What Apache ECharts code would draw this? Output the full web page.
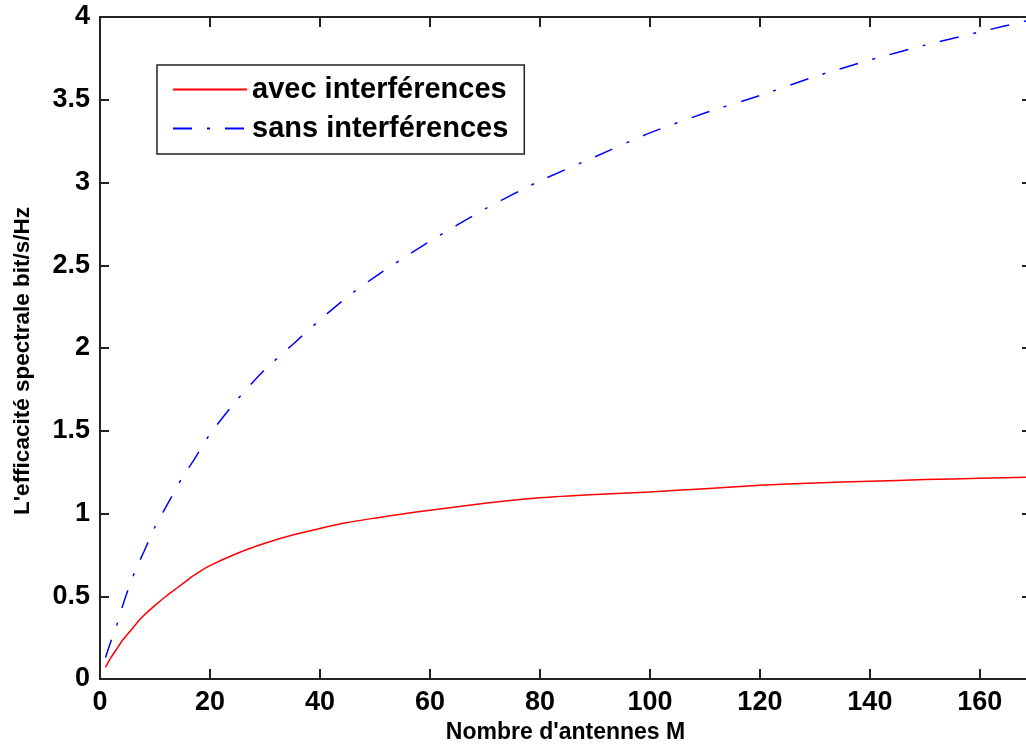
<!DOCTYPE html>
<html>
<head>
<meta charset="utf-8">
<title>Efficacité spectrale</title>
<script src="https://cdn.jsdelivr.net/npm/echarts@6/dist/echarts.min.js"></script>
<style>
  html, body { margin: 0; padding: 0; background: #fff; }
  #chart { width: 1026px; height: 746px; }
</style>
</head>
<body>
<div id="chart"></div>
<script>
// ------------------------------  données ---------------------------
const antennes = [1, 2, 3, 4, 5, 6, 7, 8, 10, 12, 13, 15, 17, 20, 25, 30, 35, 40, 45, 50, 55, 60, 70, 80, 90, 100, 110, 120, 130, 140, 150, 160, 169];
const avecInterf = [0.07, 0.13, 0.18, 0.23, 0.27, 0.31, 0.35, 0.385, 0.445, 0.50, 0.525, 0.575, 0.625, 0.685, 0.76, 0.82, 0.87, 0.91, 0.945, 0.972, 0.997, 1.02, 1.062, 1.095, 1.115, 1.13, 1.15, 1.17, 1.185, 1.195, 1.205, 1.213, 1.22];
const sansInterf = [0.13, 0.23, 0.32, 0.43, 0.53, 0.62, 0.70, 0.77, 0.92, 1.04, 1.10, 1.22, 1.32, 1.48, 1.69, 1.87, 2.02, 2.17, 2.31, 2.43, 2.54, 2.645, 2.84, 3.01, 3.155, 3.30, 3.42, 3.525, 3.64, 3.74, 3.83, 3.91, 3.98];
const nomsSeries = ['avec interférences', 'sans interférences'];

(function () {
  let myChart = echarts.init(document.getElementById('chart'));

  const font = 'Liberation Sans, Arial, sans-serif';
  const axisColor = '#222';

  // couples [M, valeur]
  function pairs(ys) {
    return antennes.map(function (m, i) { return [m, ys[i]]; });
  }

  // axe commun (cadre "box on" façon MATLAB, graduations vers l'intérieur)
  function xAxe(pos, labels) {
    return {
      type: 'value', position: pos, min: 0, max: 169.3, interval: 20,
      splitLine: { show: false },
      axisLine: { show: true, onZero: false, lineStyle: { color: axisColor, width: 2 } },
      axisTick: { show: true, inside: true, length: 10, lineStyle: { color: axisColor, width: 2 } },
      axisLabel: {
        show: labels, showMaxLabel: false, margin: 10,
        color: '#000', fontFamily: font, fontWeight: 'bold', fontSize: 27
      }
    };
  }
  function yAxe(pos, labels) {
    return {
      type: 'value', position: pos, min: 0, max: 4, interval: 0.5,
      splitLine: { show: false },
      axisLine: { show: true, onZero: false, lineStyle: { color: axisColor, width: 2 } },
      axisTick: { show: true, inside: true, length: 9, lineStyle: { color: axisColor, width: 2 } },
      axisLabel: {
        show: labels, margin: 10, padding: [4, 0, 0, 0],
        color: '#000', fontFamily: font, fontWeight: 'bold', fontSize: 27
      }
    };
  }

  let xBas = xAxe('bottom', true);
  xBas.name = "Nombre d'antennes M";
  xBas.nameLocation = 'middle';
  xBas.nameGap = 40;
  xBas.nameTextStyle = { color: '#000', fontFamily: font, fontWeight: 'bold', fontSize: 23 };

  let yGauche = yAxe('left', true);
  yGauche.name = "L'efficacité spectrale bit/s/Hz";
  yGauche.nameLocation = 'middle';
  yGauche.nameGap = 66;
  // décalage vers le bas (le texte pivoté est centré un peu plus bas)
  yGauche.nameTextStyle = { color: '#000', fontFamily: font, fontWeight: 'bold', fontSize: 22.5, padding: [0, 26, 0, 0] };

  let option = {
    animation: false,
    backgroundColor: '#fff',
    // la zone de tracé est fixée : pas de recadrage automatique des étiquettes
    grid: { left: 100, top: 17, right: -5, bottom: 67, containLabel: false, outerBoundsMode: 'none' },
    legend: {
      orient: 'vertical',
      left: 157, top: 65,
      padding: [10, 16, 11, 15],
      itemGap: 10,
      itemWidth: 74, itemHeight: 14,
      backgroundColor: '#fff',
      borderColor: '#222', borderWidth: 1.5,
      itemStyle: { color: 'transparent', borderWidth: 0, opacity: 0 },
      textStyle: { color: '#000', fontFamily: font, fontWeight: 'bold', fontSize: 29 },
      data: nomsSeries
    },
    xAxis: [xBas, xAxe('top', false)],
    yAxis: [yGauche, yAxe('right', false)],
    series: [
      {
        name: nomsSeries[0], type: 'line', xAxisIndex: 0, yAxisIndex: 0,
        symbol: 'none', smooth: 0.2,
        lineStyle: { color: '#ff0000', width: 1.5 },
        itemStyle: { color: '#ff0000' },
        data: pairs(avecInterf)
      },
      {
        name: nomsSeries[1], type: 'line', xAxisIndex: 0, yAxisIndex: 0,
        symbol: 'none', smooth: 0.2,
        lineStyle: { color: '#0000ff', width: 1.5, type: [19, 15, 3, 15] },
        itemStyle: { color: '#0000ff' },
        data: pairs(sansInterf)
      }
    ]
  };

  myChart.setOption(option);
})();
</script>
</body>
</html>
